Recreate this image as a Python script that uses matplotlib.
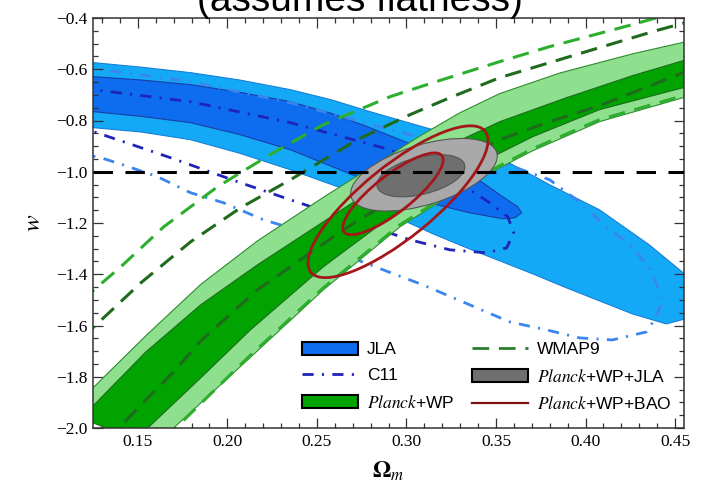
import matplotlib.pyplot as plt
import numpy as np
from matplotlib.patches import Polygon, Ellipse, Patch
from matplotlib.lines import Line2D
from matplotlib.ticker import MultipleLocator
from matplotlib.transforms import Affine2D

plt.rcParams['mathtext.fontset'] = 'stix'
plt.rcParams['lines.scale_dashes'] = False

# ---- contour data (Omega_m, w) ----
jla_95 = [(0.1183, -0.5703), (0.1255, -0.5742), (0.1520, -0.5920), (0.1795, -0.6133),
          (0.2070, -0.6420), (0.2352, -0.6797), (0.2580, -0.7190), (0.2797, -0.7656),
          (0.3187, -0.8438), (0.3521, -0.9453), (0.3800, -1.0508), (0.4078, -1.1484),
          (0.4356, -1.2852), (0.4546, -1.3945), (0.4635, -1.4609), (0.4579, -1.5703),
          (0.4451, -1.5938), (0.4262, -1.5547), (0.4078, -1.5039), (0.3894, -1.4531),
          (0.3705, -1.3984), (0.3521, -1.3477), (0.3337, -1.2969), (0.3148, -1.2422),
          (0.2964, -1.1836), (0.2725, -1.0859), (0.2352, -0.9922), (0.2070, -0.9280),
          (0.1795, -0.8750), (0.1520, -0.8450), (0.1255, -0.8281), (0.1183, -0.8242)]
jla_68 = [(0.1183, -0.6250), (0.1255, -0.6289), (0.1520, -0.6420), (0.1795, -0.6602),
          (0.2070, -0.6900), (0.2352, -0.7266), (0.2580, -0.7720), (0.2797, -0.8281),
          (0.3076, -0.9063), (0.3427, -1.0430), (0.3538, -1.0977), (0.3621, -1.1367),
          (0.3644, -1.1602), (0.3605, -1.1797), (0.3538, -1.1836), (0.3354, -1.1602),
          (0.3170, -1.1289), (0.2909, -1.0703), (0.2725, -1.0195), (0.2352, -0.9141),
          (0.2070, -0.8550), (0.1795, -0.8086), (0.1520, -0.7840), (0.1255, -0.7656),
          (0.1183, -0.7617)]

c11_68 = [(0.1183, -0.6758), (0.1255, -0.6797), (0.1795, -0.7266), (0.2352, -0.8086),
          (0.2909, -0.9141), (0.3131, -0.9844), (0.3354, -1.0703), (0.3465, -1.1211),
          (0.3566, -1.1758), (0.3599, -1.2383), (0.3560, -1.2969), (0.3449, -1.3164),
          (0.3243, -1.3047), (0.3020, -1.2656), (0.2686, -1.1875), (0.2352, -1.1094),
          (0.2074, -1.0430), (0.1667, -0.9414), (0.1255, -0.8438), (0.1183, -0.8281)]
c11_95 = [(0.1183, -0.5938), (0.1255, -0.5977), (0.1795, -0.6484), (0.2352, -0.7305),
          (0.2909, -0.8359), (0.3131, -0.8750), (0.3521, -0.9609), (0.3800, -1.0313),
          (0.3950, -1.1094), (0.4117, -1.2148), (0.4262, -1.2930), (0.4373, -1.3945),
          (0.4429, -1.5000), (0.4395, -1.5664), (0.4340, -1.6250), (0.4150, -1.6563),
          (0.3967, -1.6484), (0.3783, -1.6172), (0.3577, -1.5859), (0.3092, -1.4414),
          (0.2870, -1.3828), (0.2725, -1.3438), (0.2352, -1.2188), (0.2202, -1.1875),
          (0.1979, -1.1211), (0.1795, -1.0820), (0.1611, -1.0195), (0.1416, -0.9727),
          (0.1294, -0.9453), (0.1183, -0.9297)]

planck_95 = [(0.1183, -1.8906), (0.1255, -1.8398), (0.1545, -1.6400), (0.1851, -1.4400),
             (0.2168, -1.2700), (0.2536, -1.1000), (0.2853, -0.9600), (0.3076, -0.8600),
             (0.3298, -0.7700), (0.3521, -0.6950), (0.3855, -0.6150), (0.4262, -0.5400),
             (0.4546, -0.4950), (0.4635, -0.4830),
             (0.4635, -0.6953), (0.4546, -0.7109), (0.4078, -0.8047), (0.3705, -0.9180),
             (0.3337, -1.0508), (0.2964, -1.2148), (0.2536, -1.4609), (0.2101, -1.7422),
             (0.1700, -2.0000), (0.1628, -2.0469)]
planck_68 = [(0.1183, -1.9609), (0.1255, -1.9102), (0.1545, -1.7031), (0.1851, -1.5195),
             (0.2168, -1.3633), (0.2536, -1.1953), (0.2853, -1.0508), (0.3187, -0.9141),
             (0.3521, -0.8047), (0.3894, -0.7109), (0.4262, -0.6250), (0.4546, -0.5664),
             (0.4635, -0.5547),
             (0.4635, -0.6563), (0.4546, -0.6719), (0.4078, -0.7578), (0.3705, -0.8633),
             (0.3337, -0.9922), (0.2964, -1.1484), (0.2536, -1.3711), (0.2129, -1.6172),
             (0.1851, -1.8047), (0.1556, -2.0000), (0.1489, -2.0469)]

wmap_95_upper = [(0.1183, -1.5000), (0.1255, -1.4609), (0.1405, -1.3711), (0.1645, -1.2148),
                 (0.1945, -1.0586), (0.2257, -0.9258), (0.2536, -0.8164), (0.2909, -0.7070),
                 (0.3148, -0.6523), (0.3521, -0.5703), (0.3800, -0.5117), (0.4262, -0.4258),
                 (0.4440, -0.3906)]
wmap_95_lower = [(0.1656, -2.0469), (0.1712, -2.0000), (0.2101, -1.7344), (0.2536, -1.4531),
                 (0.2964, -1.2070), (0.3337, -1.0430), (0.3705, -0.9102), (0.4078, -0.7969),
                 (0.4546, -0.7031), (0.4635, -0.6875)]
wmap_68_upper = [(0.1183, -1.6406), (0.1255, -1.6055), (0.1517, -1.4336), (0.1795, -1.2734),
                 (0.2074, -1.1406), (0.2352, -1.0313), (0.2725, -0.8750), (0.3020, -0.7773),
                 (0.3243, -0.7109), (0.3521, -0.6328), (0.3800, -0.5742), (0.4078, -0.5156),
                 (0.4395, -0.4492), (0.4579, -0.4141)]
wmap_68_lower = [(0.1322, -2.0469), (0.1394, -2.0000), (0.1556, -1.8828), (0.1700, -1.7813),
                 (0.1851, -1.6602), (0.2168, -1.4609), (0.2536, -1.2813), (0.2725, -1.1914),
                 (0.2964, -1.0938), (0.3243, -0.9766), (0.3521, -0.8750), (0.3800, -0.8047),
                 (0.4078, -0.7422), (0.4262, -0.6914), (0.4546, -0.6133), (0.4635, -0.5938)]

# ellipses: centre (Omega_m, w), full axes in w units, tilt in degrees on screen
jla_planck_centre = [(0.3081, -1.0156), (0.3098, -1.0117)]
jla_planck_axes = [(0.352, 0.145, 14), (0.594, 0.234, 17)]
bao_centre = [(0.2925, -1.086), (0.2953, -1.117)]
bao_axes = [(0.484, 0.145, 38), (0.875, 0.281, 39)]

w_lambda = -1.0

x_lim = (0.125, 0.455)
y_lim = (-2.0, -0.4)

fig = plt.figure(figsize=(7.01, 4.83), dpi=100)
ax = fig.add_axes([93 / 701, 55 / 483, 591 / 701, 410 / 483])
ax.set_xlim(*x_lim)
ax.set_ylim(*y_lim)

# JLA
ax.add_patch(Polygon(jla_95, closed=True, fc='#14A9F6', ec='#1680D8', lw=0.8, zorder=1))
ax.add_patch(Polygon(jla_68, closed=True, fc='#0E6CEE', ec='#1A3EA8', lw=0.8, zorder=1.1))

# C11
for pts, col in [(c11_95, '#3A86EE'), (c11_68, '#1F23B8')]:
    xs, ys = zip(*pts)
    ax.plot(xs, ys, color=col, lw=2.0, dashes=(8, 6, 1.5, 6), zorder=1.5)

# Planck+WP
ax.add_patch(Polygon(planck_95, closed=True, fc='#8EE08E', ec='#2E8B2E', lw=0.8, zorder=2))
ax.add_patch(Polygon(planck_68, closed=True, fc='#00A300', ec='#1E6B1E', lw=0.8, zorder=2.1))

# WMAP9
for pts, col in [(wmap_95_upper, '#2EAE2E'), (wmap_95_lower, '#2EAE2E'),
                 (wmap_68_upper, '#1E6B1E'), (wmap_68_lower, '#1E6B1E')]:
    xs, ys = zip(*pts)
    ax.plot(xs, ys, color=col, lw=2.2, dashes=(12, 7), zorder=2.5)

# ellipses drawn in a frame where both axes share the w scale
ratio = (ax.bbox.width / (x_lim[1] - x_lim[0])) / (ax.bbox.height / (y_lim[1] - y_lim[0]))
eframe = Affine2D().scale(1 / ratio, 1) + ax.transData

for (cx, cy), (ew, eh, ang), fc in zip(jla_planck_centre[::-1], jla_planck_axes[::-1],
                                       ['#A9A9A9', '#6F6F6F']):
    ax.add_patch(Ellipse((cx * ratio, cy), ew, eh, angle=ang, transform=eframe,
                         fc=fc, ec='#555555', lw=0.8, zorder=3))
for (cx, cy), (ew, eh, ang) in zip(bao_centre, bao_axes):
    ax.add_patch(Ellipse((cx * ratio, cy), ew, eh, angle=ang, transform=eframe,
                         fc='none', ec='#A3171B', lw=2.0, zorder=4))

ax.axhline(w_lambda, color='black', lw=2.2, dashes=(14, 9), zorder=5)

# axes styling
ax.xaxis.set_major_locator(MultipleLocator(0.05))
ax.xaxis.set_minor_locator(MultipleLocator(0.01))
ax.yaxis.set_major_locator(MultipleLocator(0.2))
ax.yaxis.set_minor_locator(MultipleLocator(0.05))
ax.tick_params(which='both', direction='in', top=True, right=True, color='#333333',
               width=0.9, labelsize=12.5, labelfontfamily='Liberation Serif', pad=4)
ax.tick_params(which='major', length=7)
ax.tick_params(which='minor', length=3.6)
for sp in ax.spines.values():
    sp.set_linewidth(1.1)
    sp.set_color('#333333')

ax.set_xlabel(r'$\mathbf{\Omega}_m$', fontsize=17, labelpad=7)
ax.set_ylabel(r'$w$', fontsize=18, labelpad=8)

fig.text(0.513, 1 - 11 / 483, '(assumes flatness)', ha='center', va='baseline',
         fontsize=28, family='Liberation Sans')

handles = [
    Patch(fc='#0E6CEE', ec='black', lw=1.5),
    Line2D([], [], color='#1F23B8', lw=2.0, dashes=(8, 6, 1.5, 6)),
    Patch(fc='#00A300', ec='black', lw=1.5),
    Line2D([], [], color='#2E7D2E', lw=2.0, dashes=(12, 7)),
    Patch(fc='#6F6F6F', ec='black', lw=1.5),
    Line2D([], [], color='#7A1010', lw=1.6),
]
labels = ['JLA', 'C11', r'$\mathit{Planck}$+WP', 'WMAP9',
          r'$\mathit{Planck}$+WP+JLA', r'$\mathit{Planck}$+WP+BAO']
ax.legend(handles, labels, ncol=2, loc='lower left', bbox_to_anchor=(0.348, 0.03),
          frameon=False, prop={'family': 'Liberation Sans', 'size': 12.5},
          handlelength=3.2, handleheight=0.75, handletextpad=0.55,
          columnspacing=1.0, labelspacing=0.6, borderpad=0.2, borderaxespad=0)

fig.savefig('out.png', dpi=100)
